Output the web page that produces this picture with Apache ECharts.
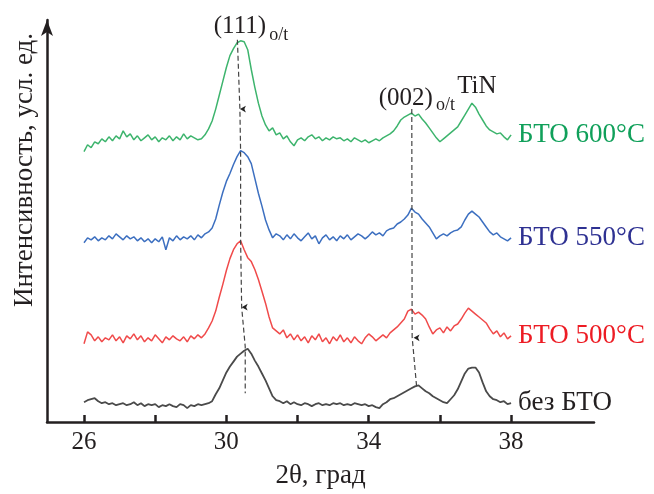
<!DOCTYPE html>
<html><head><meta charset="utf-8">
<script src="https://cdn.jsdelivr.net/npm/echarts@6/dist/echarts.min.js"></script>
<style>html,body{margin:0;padding:0;background:#fff}#c{width:654px;height:494px}</style>
</head><body><div id="c"></div>
<script>
// 2θ from 26.0 to 38.0, step 0.1
const xStart = 26.0, xStep = 0.1;
const tickValues = [26, 28, 30, 32, 34, 36, 38];
const labelValues = [26, 30, 34, 38];
const seriesNames = ['без БТО', 'БТО 500°C', 'БТО 550°C', 'БТО 600°C'];
const noBTO = [20,22,23,24,21,19,20,18,19,17,18,19,17,18,20,17,19,16,18,17,18,15,17,16,18,16,15,18,17,14,17,16,18,17,18,19,21,28,34,42,50,56,61,66,69,72,74,69,62,56,49,42,34,26,22,21,19,21,18,20,18,17,19,18,16,18,19,17,18,17,19,18,19,17,18,17,19,18,17,18,16,17,15,14,18,20,23,24,26,28,30,32,34,36,37,34,31,29,26,24,22,20,19,23,27,33,41,49,54,55,55,50,40,31,26,23,22,20,21,18,19];
const bto500 = [79,91,88,82,86,81,85,83,88,82,86,80,87,84,89,83,87,81,85,82,88,84,80,86,83,87,84,82,86,81,87,84,88,85,89,95,102,112,126,139,153,165,174,180,183,174,166,162,154,144,132,120,106,95,92,89,93,85,89,83,88,82,86,80,87,83,89,81,85,79,86,82,88,81,85,80,86,82,79,85,89,86,82,85,88,85,90,93,96,100,104,112,114,109,111,108,104,96,89,93,95,90,96,92,97,99,104,110,115,112,109,106,103,100,94,89,92,86,90,84,87];
const bto550 = [181,186,184,187,183,186,184,188,185,190,187,184,188,185,187,183,186,182,185,181,185,182,187,174,186,183,188,184,187,185,188,184,189,186,190,192,196,205,219,232,243,251,260,268,274,272,268,261,246,231,218,204,194,186,190,188,184,189,185,190,186,183,187,191,185,188,180,186,189,184,187,183,188,185,189,184,187,190,188,185,188,192,189,191,188,193,195,196,200,202,205,209,216,212,210,205,201,197,191,185,188,190,188,191,193,194,197,204,210,213,210,207,202,197,192,189,191,187,185,183,186];
const bto600 = [273,280,277,283,281,286,283,288,284,289,286,294,288,291,285,289,284,287,290,285,288,283,287,285,289,284,288,285,291,286,289,287,285,286,290,296,304,316,330,344,358,370,377,383,385,384,376,356,338,322,309,300,294,297,290,292,286,289,283,279,285,287,284,288,290,286,288,284,287,285,288,286,287,284,286,283,287,285,283,285,282,284,286,284,287,289,291,294,299,305,308,310,312,309,311,306,302,297,292,287,283,286,289,292,295,298,304,310,316,322,318,311,305,299,295,293,291,292,288,285,290];
// guide lines through the peaks [2θ, intensity]
const guide111 = [[30.31,386],[30.38,316],[30.40,273],[30.40,183],[30.43,116],[30.53,76],[30.53,29]];
const guide002 = [[35.21,316],[35.22,86],[35.35,34]];
const shiftMarks = [[30.38,316],[30.43,116],[35.26,85]];
// annotation texts [2θ, intensity, text, fontSize]
const annotations = [[30.38,400,'(111)',25],[31.47,391,'o/t',18],[35.04,327,'(002)',25],[36.16,320,'o/t',18],[37.04,339,'TiN',25]];

const lineColors = ['#4a4a4a', '#f04a4a', '#3c6fc0', '#3db46d'];
const labelColors = ['#231f20', '#ed1c24', '#2e3192', '#10a05a'];
const FONT = '"Liberation Serif", "Times New Roman", serif';

function toPairs(arr){ return arr.map((v,i)=>[+(xStart + i*xStep).toFixed(2), v]); }
const curves = [noBTO, bto500, bto550, bto600];

const series = curves.map((arr, k) => ({
  name: seriesNames[k], type: 'line', data: toPairs(arr), showSymbol: false, symbol: 'none',
  lineStyle: {color: lineColors[k], width: k === 0 ? 1.8 : 1.5}, animation: false, z: 3,
  endLabel: {show: true, formatter: seriesNames[k], distance: 7, color: labelColors[k], fontSize: 27, fontFamily: FONT}
}));
[guide111, guide002].forEach(g => series.push({
  type: 'line', data: g, symbol: 'none', lineStyle: {color: '#444', width: 1.2, type: [5, 3]}, animation: false, z: 4
}));
series.push({
  type: 'scatter', data: shiftMarks, symbol: 'arrow', symbolSize: [5, 6], symbolRotate: 90,
  itemStyle: {color: '#222', opacity: 1}, animation: false, z: 5
});
series.push({
  type: 'scatter', data: annotations.map(a => ({value: [a[0], a[1]], name: a[2],
    label: {show: true, position: 'inside', formatter: a[2], fontSize: a[3], fontFamily: FONT, color: '#231f20', opacity: 1, textBorderWidth: 0}})),
  symbolSize: 1, itemStyle: {color: 'rgba(0,0,0,0)', opacity: 1}, clip: false, animation: false, z: 6
});

const chart = echarts.init(document.getElementById('c'), null, {renderer: 'canvas'});
chart.setOption({
  animation: false,
  grid: {left: 47, right: 60, top: 20, bottom: 68},
  xAxis: {
    type: 'value', min: 24.96, max: 40.33,
    name: '2θ, град', nameLocation: 'middle', nameGap: 40,
    nameTextStyle: {fontSize: 27, fontFamily: FONT, color: '#231f20'},
    axisLine: {lineStyle: {color: '#231f20', width: 2.5}},
    axisTick: {inside: true, length: 7, customValues: tickValues, lineStyle: {color: '#231f20', width: 2.5}},
    axisLabel: {customValues: labelValues, margin: 8, fontSize: 25, fontFamily: FONT, color: '#231f20'},
    splitLine: {show: false}
  },
  yAxis: {
    type: 'value', min: 0, max: 406,
    axisLine: {show: true, symbol: ['none', 'arrow'], symbolSize: [9, 16], lineStyle: {color: '#231f20', width: 2.5}},
    axisTick: {show: false}, axisLabel: {show: false}, splitLine: {show: false}
  },
  graphic: [{
    type: 'text', x: 25, y: 170, rotation: Math.PI / 2,
    style: {text: 'Интенсивность, усл. ед.', fontSize: 27, fontFamily: FONT, fill: '#231f20', align: 'center', verticalAlign: 'middle'}
  }],
  series: series
});
</script></body></html>
